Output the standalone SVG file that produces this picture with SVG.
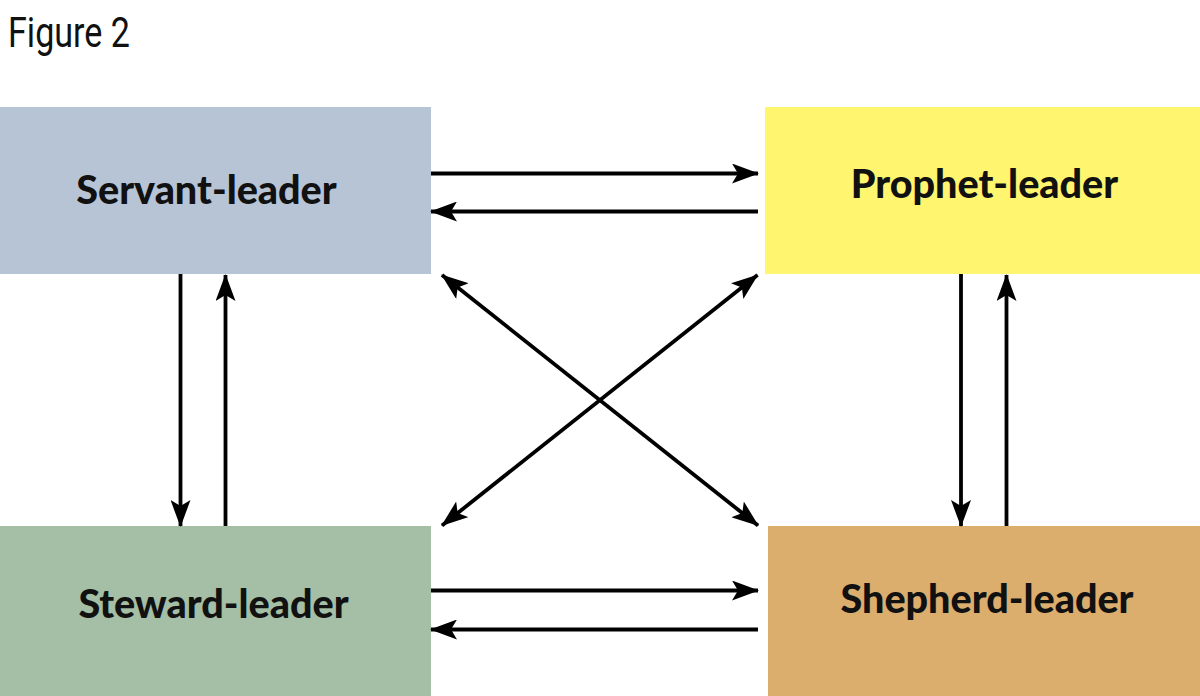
<svg xmlns="http://www.w3.org/2000/svg" width="1200" height="696" viewBox="0 0 1200 696">
<defs>
<style>
.lbl{font-family:Lato,"Open Sans","Liberation Sans",sans-serif;font-weight:900;font-size:39.5px;fill:#111;text-anchor:middle}
.title{font-family:"Liberation Sans Narrow",Roboto,"Liberation Sans",sans-serif;font-size:43px;fill:#111}
.c{stroke:#000;stroke-width:3.8;fill:none}
</style>
<marker id="ah" viewBox="0 0 27 20" refX="26" refY="10" markerWidth="27" markerHeight="20" markerUnits="userSpaceOnUse" orient="auto-start-reverse">
<path d="M0,0 L27,10 L0,20 L6,10 Z" fill="#000"/>
</marker>
</defs>
<rect width="1200" height="696" fill="#fff"/>
<text class="title" x="8" y="47" textLength="122" lengthAdjust="spacingAndGlyphs">Figure 2</text>
<g id="servant">
<rect x="0" y="107" width="431" height="167" fill="#b7c4d6"/>
<text class="lbl" x="206.5" y="204">Servant-leader</text>
</g>
<g id="prophet">
<rect x="765" y="107" width="435" height="167" fill="#fff56f"/>
<text class="lbl" x="984.5" y="198">Prophet-leader</text>
</g>
<g id="steward">
<rect x="0" y="526" width="431" height="170" fill="#a4bfa5"/>
<text class="lbl" x="213.5" y="618">Steward-leader</text>
</g>
<g id="shepherd">
<rect x="768" y="526" width="432" height="170" fill="#dbae6e"/>
<text class="lbl" x="987" y="613">Shepherd-leader</text>
</g>
<g id="connectors">
<line class="c" x1="431" y1="173.5" x2="758" y2="173.5" marker-end="url(#ah)"/>
<line class="c" x1="758" y1="211.5" x2="431" y2="211.5" marker-end="url(#ah)"/>
<line class="c" x1="431" y1="590.5" x2="758" y2="590.5" marker-end="url(#ah)"/>
<line class="c" x1="758" y1="629.5" x2="431" y2="629.5" marker-end="url(#ah)"/>
<line class="c" x1="180.5" y1="274" x2="180.5" y2="526" marker-end="url(#ah)"/>
<line class="c" x1="225.5" y1="526" x2="225.5" y2="275" marker-end="url(#ah)"/>
<line class="c" x1="961" y1="274" x2="961" y2="526" marker-end="url(#ah)"/>
<line class="c" x1="1006.5" y1="526" x2="1006.5" y2="275" marker-end="url(#ah)"/>
<line class="c" x1="442" y1="275" x2="758" y2="525.5" marker-start="url(#ah)" marker-end="url(#ah)"/>
<line class="c" x1="757.5" y1="275" x2="442" y2="525.5" marker-start="url(#ah)" marker-end="url(#ah)"/>
</g>
</svg>
